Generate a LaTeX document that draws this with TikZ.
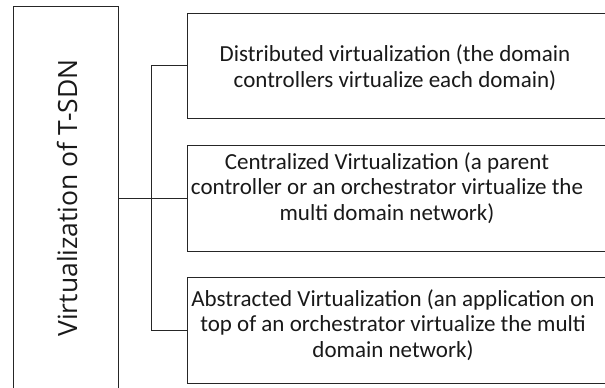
\documentclass[tikz,border=0pt]{standalone}
\usepackage{fontspec}
\setmainfont{Carlito}
\newfontfamily\leftfont{Open Sans}
\begin{document}
\begin{tikzpicture}[x=1pt,y=-1pt,
  box/.style={draw=black!85,line width=1pt,fill=none,inner sep=0pt},
  boxtext/.style={align=center,inner sep=0pt,font=\fontsize{23}{25.5}\selectfont,text=black!90},
  conn/.style={draw=black!85,line width=1pt}]
\useasboundingbox (0,0) rectangle (605,388);
% left box
\node[box,minimum width=105pt,minimum height=384pt] (L) at (65.5,198) {};
\node[rotate=90,anchor=base,inner sep=0pt,font=\leftfont\fontsize{26.5}{30}\selectfont,text=black!90] (Lt) at (77,198) {Virtualization of T-SDN};
% right boxes
\node[box,minimum width=425pt,minimum height=105pt] (b1) at (399.5,65.5) {};
\node[box,minimum width=425pt,minimum height=106pt] (b2) at (399.5,198) {};
\node[box,minimum width=425pt,minimum height=106pt] (b3) at (399.5,330) {};
\node[boxtext] (t1) at (395,67.5) {Distributed virtualization (the domain\\controllers virtualize each domain)};
\node[boxtext] (t2) at (387,188) {Centralized Virtualization (a parent\\controller or an orchestrator virtualize the\\multi domain network)};
\node[boxtext] (t3) at (393,325) {Abstracted Virtualization (an application on\\top of an orchestrator virtualize the multi\\domain network)};
% connectors
\draw[conn] (L.east) -- (b2.west);
\draw[conn] (b1.west) -| ([xshift=-35pt]b2.west) |- (b3.west);
\end{tikzpicture}
\end{document}
